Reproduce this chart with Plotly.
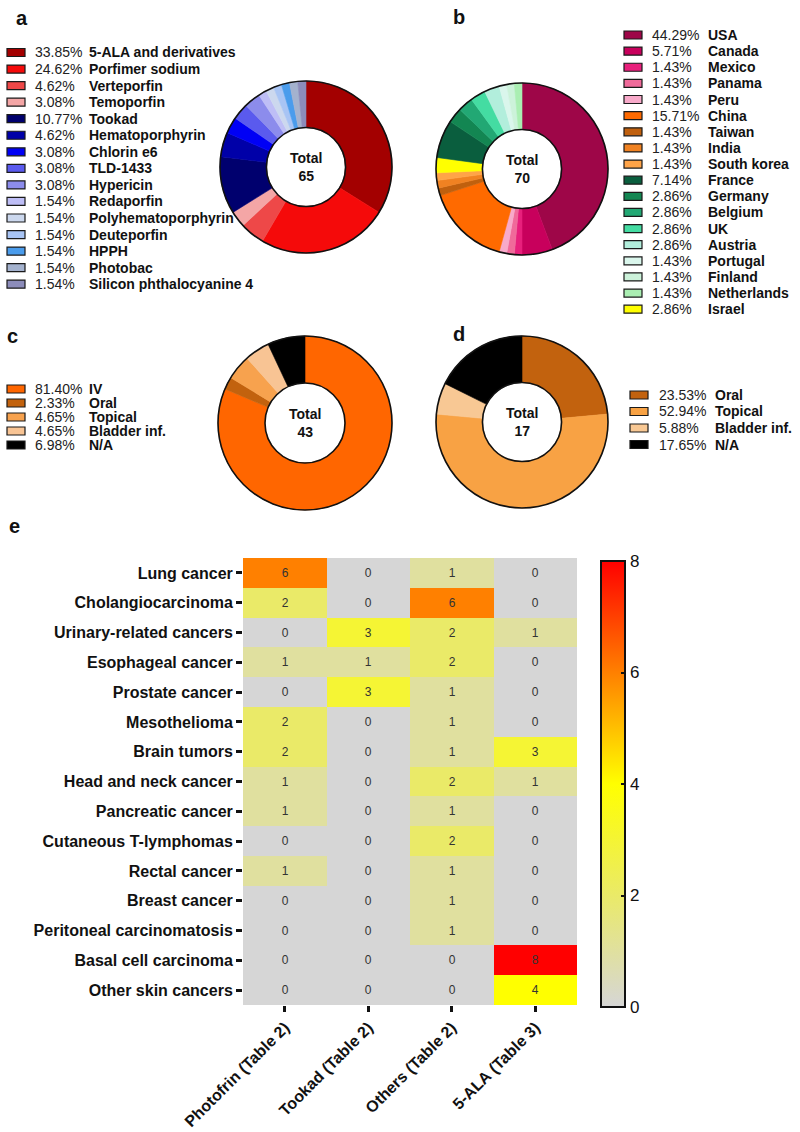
import plotly.graph_objects as go

FONT = "Liberation Sans, Arial, sans-serif"
W, H = 800, 1132

# ---------------- data ----------------
a_labels = ["5-ALA and derivatives", "Porfimer sodium", "Verteporfin", "Temoporfin", "Tookad",
            "Hematoporphyrin", "Chlorin e6", "TLD-1433", "Hypericin", "Redaporfin",
            "Polyhematoporphyrin", "Deuteporfin", "HPPH", "Photobac", "Silicon phthalocyanine 4"]
a_values = [22, 16, 3, 2, 7, 3, 2, 2, 2, 1, 1, 1, 1, 1, 1]
a_colors = ["#A30000", "#F50A0A", "#EE4848", "#F4A6A6", "#00006E", "#0000A8", "#0000F5",
            "#5A5AEE", "#8C8CEC", "#BEBEF6", "#CCD8EE", "#A8C4F4", "#4A9CEC", "#A4B2CE", "#8C8CBA"]

b_labels = ["USA", "Canada", "Mexico", "Panama", "Peru", "China", "Taiwan", "India", "South korea",
            "France", "Germany", "Belgium", "UK", "Austria", "Portugal", "Finland", "Netherlands", "Israel"]
b_values = [31, 4, 1, 1, 1, 11, 1, 1, 1, 5, 2, 2, 2, 2, 1, 1, 1, 2]
b_colors = ["#9E0648", "#C8005C", "#E8207C", "#F06A9A", "#F8AACA", "#FF6A00", "#C0600E", "#F08222",
            "#FFA448", "#0A5E3E", "#138652", "#22A874", "#44DCA2", "#B2EEDC", "#DAF6EC", "#CCF2DA",
            "#AAEEB2", "#FFFF00"]
# slice order of pie b (Israel drawn between South korea and France)
b_pie_order = ["USA", "Canada", "Mexico", "Panama", "Peru", "China", "Taiwan", "India", "South korea",
               "Israel", "France", "Germany", "Belgium", "UK", "Austria", "Portugal", "Finland", "Netherlands"]

c_labels = ["IV", "Oral", "Topical", "Bladder inf.", "N/A"]
c_values = [35, 1, 2, 2, 3]
c_colors = ["#FF6600", "#C2620E", "#F7A24E", "#F8C494", "#000000"]

d_labels = ["Oral", "Topical", "Bladder inf.", "N/A"]
d_values = [4, 9, 1, 3]
d_colors = ["#C2620E", "#F8A244", "#F8C894", "#000000"]

hm_rows = ["Lung cancer", "Cholangiocarcinoma", "Urinary-related cancers", "Esophageal cancer",
           "Prostate cancer", "Mesothelioma", "Brain tumors", "Head and neck cancer",
           "Pancreatic cancer", "Cutaneous T-lymphomas", "Rectal cancer", "Breast cancer",
           "Peritoneal carcinomatosis", "Basal cell carcinoma", "Other skin cancers"]
hm_cols = ["Photofrin (Table 2)", "Tookad (Table 2)", "Others (Table 2)", "5-ALA (Table 3)"]
hm_values = [
    [6, 0, 1, 0],
    [2, 0, 6, 0],
    [0, 3, 2, 1],
    [1, 1, 2, 0],
    [0, 3, 1, 0],
    [2, 0, 1, 0],
    [2, 0, 1, 3],
    [1, 0, 2, 1],
    [1, 0, 1, 0],
    [0, 0, 2, 0],
    [1, 0, 1, 0],
    [0, 0, 1, 0],
    [0, 0, 1, 0],
    [0, 0, 0, 8],
    [0, 0, 0, 4],
]
cb_ticks = [0, 2, 4, 6, 8]


def px(x):
    return x / W


def py(y):
    return 1 - y / H


fig = go.Figure()
annotations = []
shapes = []
HOLE = 0.46


def add_pie(labels, values, colors, cx, cy, r, order=None):
    if order is None:
        order = labels
    cmap = dict(zip(labels, colors))
    vmap = dict(zip(labels, values))
    dom = dict(x=[px(cx - r), px(cx + r)], y=[py(cy + r), py(cy - r)])
    cols = [cmap[l] for l in order]
    fig.add_trace(go.Pie(
        labels=order, values=[vmap[l] for l in order],
        marker=dict(colors=cols, line=dict(color=cols, width=0.6)),
        sort=False, direction="clockwise", rotation=0, hole=HOLE,
        textinfo="none", hoverinfo="label+value", showlegend=False, domain=dom,
    ))
    # ring outline (outer and inner circle)
    fig.add_trace(go.Pie(
        labels=["outline"], values=[1],
        marker=dict(colors=["rgba(0,0,0,0)"], line=dict(color="#111", width=1.6)),
        hole=HOLE, textinfo="none", hoverinfo="skip", showlegend=False, domain=dom,
    ))
    total = sum(values)
    annotations.append(dict(x=px(cx), y=py(cy), xref="paper", yref="paper", showarrow=False,
                            text=f"<b>Total<br>{total}</b>", font=dict(family=FONT, size=14, color="#111"),
                            xanchor="center", yanchor="middle", align="center"))


def add_legend(labels, values, colors, sx, pxx, nx, y0, step):
    total = sum(values)
    for i, (lab, val, col) in enumerate(zip(labels, values, colors)):
        yy = y0 + i * step
        shapes.append(dict(type="rect", xref="paper", yref="paper",
                           x0=px(sx), x1=px(sx + 18), y0=py(yy + 4), y1=py(yy - 4),
                           fillcolor=col, line=dict(color="#1a1a1a", width=1.2)))
        annotations.append(dict(x=px(pxx), y=py(yy), xref="paper", yref="paper", showarrow=False,
                                text=f"{val / total * 100:.2f}%", xanchor="left", yanchor="middle",
                                font=dict(family=FONT, size=14, color="#222")))
        annotations.append(dict(x=px(nx), y=py(yy), xref="paper", yref="paper", showarrow=False,
                                text=f"<b>{lab}</b>", xanchor="left", yanchor="middle",
                                font=dict(family=FONT, size=14, color="#111")))


add_pie(a_labels, a_values, a_colors, 306, 167, 86)
add_pie(b_labels, b_values, b_colors, 522, 169, 86, order=b_pie_order)
add_pie(c_labels, c_values, c_colors, 305, 423, 87)
add_pie(d_labels, d_values, d_colors, 522, 422, 86)

add_legend(a_labels, a_values, a_colors, 7, 33, 87, 52.5, 16.55)
add_legend(b_labels, b_values, b_colors, 624, 650, 706, 35, 16.13)
add_legend(c_labels, c_values, c_colors, 7, 33, 87, 389, 14)
add_legend(d_labels, d_values, d_colors, 630, 657, 713, 395, 16.5)

for lab, x, y in [("a", 22, 18), ("b", 459, 17), ("c", 12, 336), ("d", 459, 334), ("e", 14, 526)]:
    annotations.append(dict(x=px(x), y=py(y), xref="paper", yref="paper", showarrow=False,
                            text=f"<b>{lab}</b>", xanchor="center", yanchor="middle",
                            font=dict(family=FONT, size=20, color="#111")))

# ---------------- heatmap ----------------
fig.add_trace(go.Heatmap(
    z=hm_values, x=hm_cols, y=hm_rows, zmin=0, zmax=8,
    colorscale=[[0, "#D6D6D6"], [0.25, "#EAEA68"], [0.5, "#FFFF00"], [0.75, "#FF8000"], [1, "#FF0000"]],
    texttemplate="%{z}", textfont=dict(family=FONT, size=12, color="#333"),
    xgap=0, ygap=0,
    colorbar=dict(x=px(601), xanchor="left", y=py(1007), yanchor="bottom",
                  len=(1007 - 561) / H, lenmode="fraction", thickness=24,
                  outlinewidth=2, outlinecolor="#111",
                  tickvals=cb_ticks, ticks="inside", ticklen=5, tickwidth=2, tickcolor="#111",
                  tickprefix=" ",
                  tickfont=dict(family=FONT, size=17, color="#111"), xpad=0, ypad=0),
))

fig.update_layout(
    width=W, height=H, margin=dict(l=0, r=0, t=0, b=0, autoexpand=False),
    paper_bgcolor="white", plot_bgcolor="white",
    annotations=annotations, shapes=shapes,
    xaxis=dict(domain=[px(243), px(577)], anchor="y", showgrid=False, zeroline=False, automargin=False,
               ticks="outside", ticklen=6, tickwidth=3, tickcolor="#111", tickangle=-45,
               tickfont=dict(family=FONT, size=16, color="#111"),
               tickvals=hm_cols, ticktext=[f"<b>{c}</b>" for c in hm_cols]),
    yaxis=dict(domain=[py(1005), py(558)], anchor="x", showgrid=False, zeroline=False, automargin=False,
               autorange="reversed", ticks="outside", ticklen=6, tickwidth=3, tickcolor="#111",
               tickfont=dict(family=FONT, size=16, color="#111"),
               tickvals=hm_rows, ticktext=[f"<b>{r}</b>" for r in hm_rows]),
)

fig.write_html("out.html")
